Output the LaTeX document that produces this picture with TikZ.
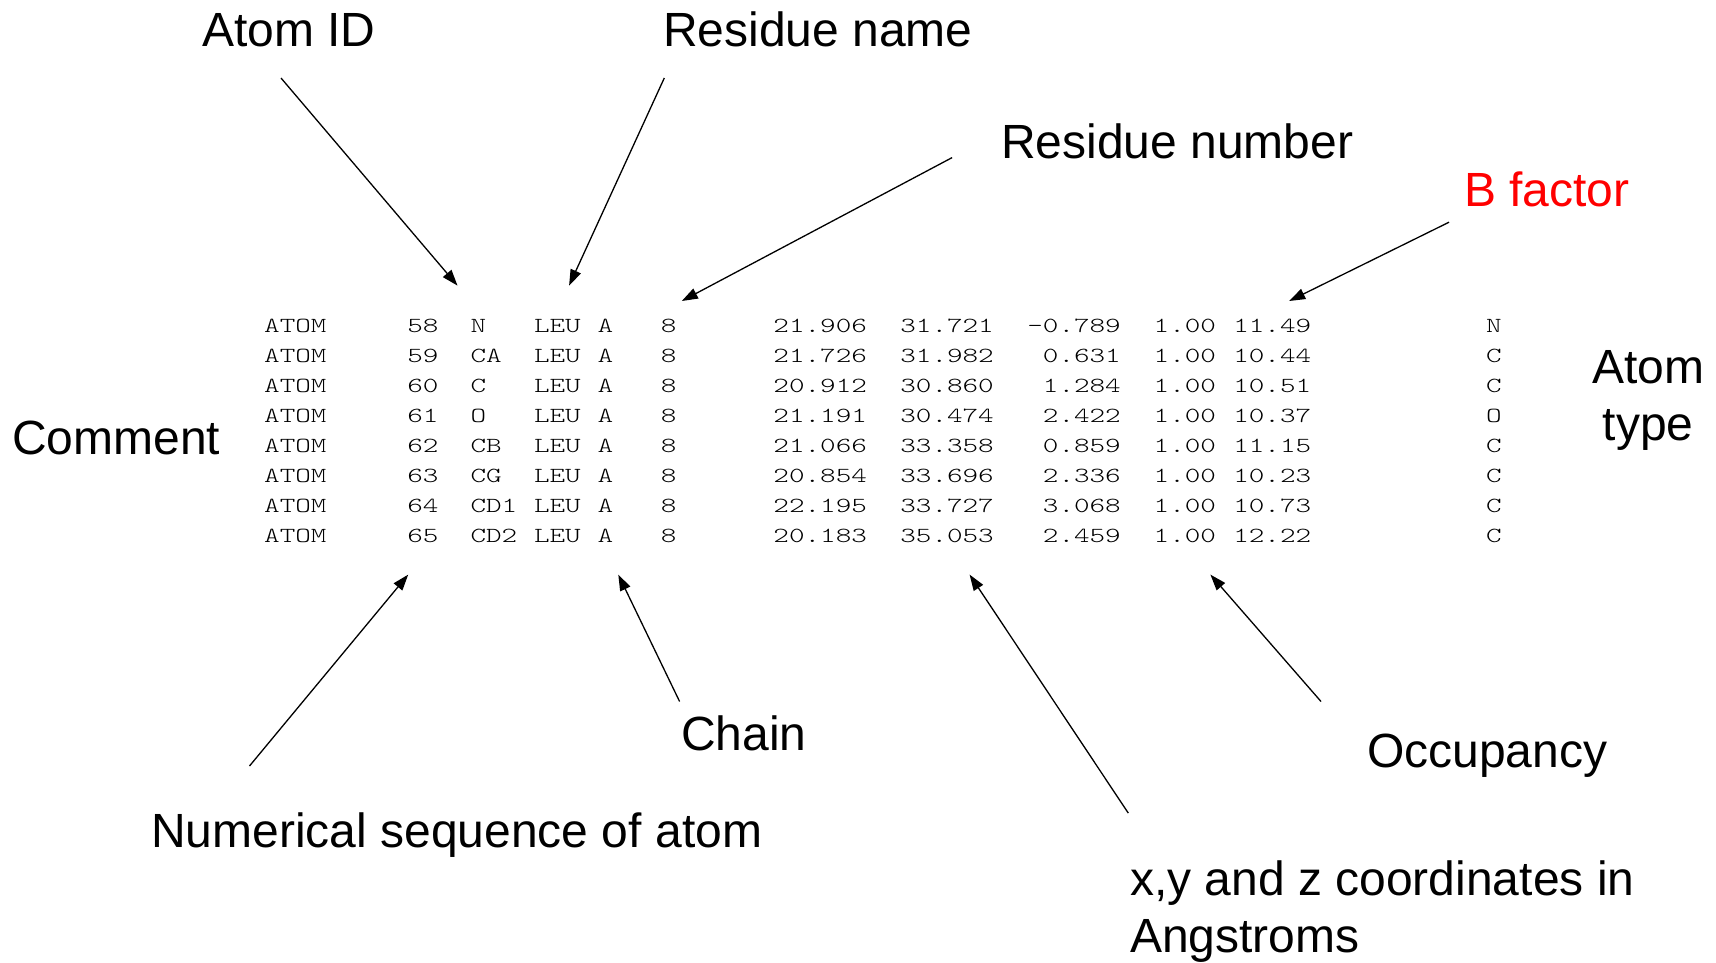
\documentclass[tikz,border=0pt]{standalone}
\usepackage{fontspec}
\setmainfont{Liberation Sans}
\newfontfamily\pdbfont[FakeStretch=1.38]{Latin Modern Mono Light}
\usetikzlibrary{arrows.meta}
\begin{document}
\begin{tikzpicture}[x=1pt,y=-1pt,
  lbl/.style={inner sep=0pt, anchor=base west, font=\fontsize{48}{57}\selectfont},
  pdb/.style={inner sep=0pt, font=\pdbfont\fontsize{21.5}{26}\selectfont, text=black},
  arr/.style={-{Triangle[length=16pt,width=11pt]}, line width=1.3pt}
]
\useasboundingbox (0,0) rectangle (1716,962);

% labels
\node[lbl] (atomid) at (202,46.5) {Atom ID};
\node[lbl] (resname) at (663,46.5) {Residue name};
\node[lbl] (resnum) at (1001,158) {Residue number};
\node[lbl, text=red] (bfac) at (1464,206) {B factor};
\node[lbl] (comment) at (12,454) {Comment};
\node[lbl, anchor=base, align=center] (atype) at (1648,440) {Atom\\type};
\node[lbl] (numseq) at (151,847) {Numerical sequence of atom};
\node[lbl] (chain) at (681,750) {Chain};
\node[lbl] (occ) at (1367,767) {Occupancy};
\node[lbl, align=left] (xyz) at (1130,952) {x,y and z coordinates in\\Angstroms};

% table
\foreach \ser/\nm/\xx/\yy/\zz/\bb/\el [count=\i from 0] in {
  58/N/21.906/31.721/-0.789/11.49/N,
  59/CA/21.726/31.982/0.631/10.44/C,
  60/C/20.912/30.860/1.284/10.51/C,
  61/O/21.191/30.474/2.422/10.37/O,
  62/CB/21.066/33.358/0.859/11.15/C,
  63/CG/20.854/33.696/2.336/10.23/C,
  64/CD1/22.195/33.727/3.068/10.73/C,
  65/CD2/20.183/35.053/2.459/12.22/C}
{
  \pgfmathsetmacro\by{332+30*\i}
  \node[pdb, anchor=base west] (rec\i) at (264,\by) {ATOM};
  \node[pdb, anchor=base east] (ser\i) at (438.6,\by) {\ser};
  \node[pdb, anchor=base west] (nm\i) at (470.3,\by) {\nm};
  \node[pdb, anchor=base west] (res\i) at (533.8,\by) {LEU};
  \node[pdb, anchor=base west] (ch\i) at (597.3,\by) {A};
  \node[pdb, anchor=base east] (seq\i) at (676.6,\by) {8};
  \node[pdb, anchor=base east] (x\i) at (867.1,\by) {\xx};
  \node[pdb, anchor=base east] (y\i) at (994.0,\by) {\yy};
  \node[pdb, anchor=base east] (z\i) at (1121.0,\by) {\zz};
  \node[pdb, anchor=base east] (oc\i) at (1216.2,\by) {1.00};
  \node[pdb, anchor=base east] (bf\i) at (1311.4,\by) {\bb};
  \node[pdb, anchor=base east] (el\i) at (1501.9,\by) {\el};
}

% arrow end points
\coordinate (idS) at (281,78);   \coordinate (idE) at (457.5,285.6);
\coordinate (rnS) at (664.3,78); \coordinate (rnE) at (569.1,285.6);
\coordinate (rsS) at (952.1,157.6); \coordinate (rsE) at (681.8,301);
\coordinate (bS) at (1449,222.2); \coordinate (bE) at (1289.2,301);
\coordinate (nsS) at (249.5,766); \coordinate (nsE) at (408.2,574.6);
\coordinate (chS) at (679.6,701.5); \coordinate (chE) at (618.3,574.6);
\coordinate (xyS) at (1128.3,813.1); \coordinate (xyE) at (969.6,574.6);
\coordinate (ocS) at (1321,701.5); \coordinate (ocE) at (1210.4,574.6);

\draw[arr] (idS) -- (idE);
\draw[arr] (rnS) -- (rnE);
\draw[arr] (rsS) -- (rsE);
\draw[arr] (bS) -- (bE);
\draw[arr] (nsS) -- (nsE);
\draw[arr] (chS) -- (chE);
\draw[arr] (xyS) -- (xyE);
\draw[arr] (ocS) -- (ocE);
\end{tikzpicture}
\end{document}
